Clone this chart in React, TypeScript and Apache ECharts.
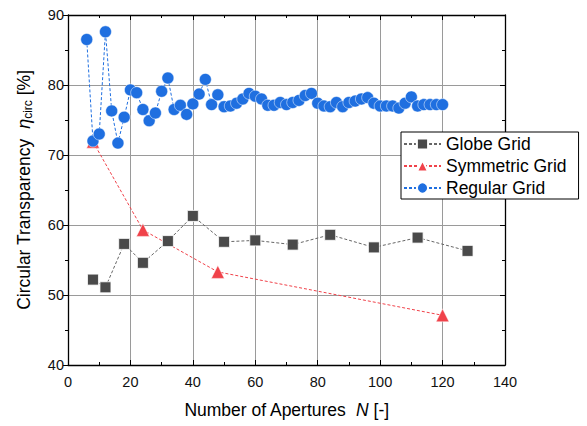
import React, { useEffect, useRef } from "react";
import * as echarts from "echarts";

const globeN = [8, 12, 18, 24, 32, 40, 50, 60, 72, 84, 98, 112, 128];
const globeEta = [52.2, 51.1, 57.3, 54.6, 57.7, 61.3, 57.6, 57.8, 57.2, 58.6, 56.8, 58.2, 56.3];

const symN = [8, 24, 48, 120];
const symEta = [71.9, 59.3, 53.3, 47.1];

const regN = [
  6, 8, 10, 12, 14, 16, 18, 20, 22, 24, 26, 28, 30, 32, 34, 36, 38, 40, 42, 44, 46, 48, 50, 52, 54, 56, 58, 60,
  62, 64, 66, 68, 70, 72, 74, 76, 78, 80, 82, 84, 86, 88, 90, 92, 94, 96, 98, 100, 102, 104, 106, 108, 110, 112,
  114, 116, 118, 120,
];
const regEta = [
  86.5, 72.0, 73.0, 87.6, 76.3, 71.7, 75.4, 79.3, 78.9, 76.5, 74.9, 76.0, 79.1, 81.0, 76.5, 77.1, 75.8, 77.3,
  78.7, 80.8, 77.2, 78.6, 76.9, 77.0, 77.4, 78.0, 78.8, 78.4, 78.0, 77.1, 77.1, 77.5, 77.2, 77.5, 77.8, 78.5,
  78.8, 77.4, 77.0, 76.9, 77.5, 76.9, 77.5, 77.7, 78.0, 78.2, 77.4, 77.0, 77.0, 77.0, 76.7, 77.4, 78.3, 77.0,
  77.2, 77.2, 77.2, 77.2,
];

const xTicks = [0, 20, 40, 60, 80, 100, 120, 140];
const yTicks = [40, 50, 60, 70, 80, 90];

const FONT = "'Liberation Sans', Arial, sans-serif";

export default function App() {
  const ref = useRef<HTMLDivElement>(null);
  useEffect(() => {
    if (!ref.current) return;
    const chart = echarts.init(ref.current, undefined, { renderer: "svg" });
    const zip = (xs: number[], ys: number[]) => xs.map((x, i) => [x, ys[i]]);
    const axisBase = {
      type: "value" as const,
      axisLine: { show: true, onZero: false, lineStyle: { color: "#000", width: 1.3 } },
    };
    chart.setOption({
      animation: false,
      textStyle: { fontFamily: FONT },
      grid: { left: 68, right: 82, top: 15, bottom: 61, containLabel: false },
      legend: {
        orient: "vertical",
        left: 401,
        top: 132,
        backgroundColor: "#fff",
        borderColor: "#000",
        borderWidth: 1,
        padding: [3, 12, 2, 2],
        itemGap: 4,
        itemWidth: 37,
        itemHeight: 14,
        textStyle: { fontSize: 17.5, color: "#000", fontFamily: FONT },
        data: ["Globe Grid", "Symmetric Grid", "Regular Grid"],
      },
      xAxis: [
        {
          ...axisBase,
          min: xTicks[0],
          max: xTicks[xTicks.length - 1],
          interval: 20,
          name: "Number of Apertures  {i|N} [-]",
          nameLocation: "middle",
          nameGap: 36,
          nameTextStyle: {
            fontSize: 17.5,
            color: "#000",
            fontFamily: FONT,
            rich: { i: { fontStyle: "italic", fontSize: 17.5, fontFamily: FONT, color: "#000" } },
          },
          axisTick: { show: true, inside: true, length: 5, lineStyle: { color: "#000" } },
          minorTick: { show: true, splitNumber: 2, length: 3, lineStyle: { color: "#000" } },
          axisLabel: { fontSize: 14.5, color: "#111", margin: 9, fontFamily: FONT },
          splitLine: { show: true, lineStyle: { color: "#9a9a9a", width: 1 } },
        },
        {
          ...axisBase,
          position: "top",
          min: xTicks[0],
          max: xTicks[xTicks.length - 1],
          interval: 20,
          axisTick: { show: true, inside: true, length: 5, lineStyle: { color: "#000" } },
          minorTick: { show: true, splitNumber: 2, length: 3, lineStyle: { color: "#000" } },
          axisLabel: { show: false },
          splitLine: { show: false },
        },
      ],
      yAxis: [
        {
          ...axisBase,
          min: yTicks[0],
          max: yTicks[yTicks.length - 1],
          interval: 10,
          name: "Circular Transparency  {i|η}{s|circ} [%]",
          nameLocation: "middle",
          nameGap: 34,
          nameTextStyle: {
            fontSize: 17.5,
            color: "#000",
            fontFamily: FONT,
            rich: {
              i: { fontStyle: "italic", fontSize: 18, fontFamily: FONT, color: "#000" },
              s: { fontSize: 12, fontFamily: FONT, color: "#000", padding: [8, 0, 0, 0] },
            },
          },
          axisTick: { show: true, inside: false, length: 5, lineStyle: { color: "#000" } },
          minorTick: { show: true, splitNumber: 2, length: 3, lineStyle: { color: "#000" } },
          axisLabel: { fontSize: 14.5, color: "#111", margin: 4, fontFamily: FONT },
          splitLine: { show: true, lineStyle: { color: "#9a9a9a", width: 1 } },
        },
        {
          ...axisBase,
          position: "right",
          min: yTicks[0],
          max: yTicks[yTicks.length - 1],
          interval: 10,
          axisTick: { show: true, inside: true, length: 5, lineStyle: { color: "#000" } },
          minorTick: { show: true, splitNumber: 2, length: 3, lineStyle: { color: "#000" } },
          axisLabel: { show: false },
          splitLine: { show: false },
        },
      ],
      series: [
        {
          name: "Globe Grid",
          type: "line",
          data: zip(globeN, globeEta),
          symbol: "rect",
          symbolSize: 11,
          itemStyle: { color: "#4a4a4a", borderColor: "#fff", borderWidth: 0.8 },
          lineStyle: { color: "#666", width: 1, type: [3, 2] },
        },
        {
          name: "Symmetric Grid",
          type: "line",
          data: zip(symN, symEta),
          symbol: "triangle",
          symbolSize: 13,
          itemStyle: { color: "#f0424a", borderColor: "#fff", borderWidth: 0.5 },
          lineStyle: { color: "#f0424a", width: 1, type: [3, 2] },
        },
        {
          name: "Regular Grid",
          type: "line",
          data: zip(regN, regEta),
          symbol: "circle",
          symbolSize: 12,
          itemStyle: { color: "#1f6fe0", borderColor: "#fff", borderWidth: 0.5 },
          lineStyle: { color: "#1f6fe0", width: 1, type: [3, 2] },
        },
      ],
    });
    return () => chart.dispose();
  }, []);
  return <div ref={ref} style={{ width: 587, height: 426, position: "absolute", left: 0, top: 0 }} />;
}
